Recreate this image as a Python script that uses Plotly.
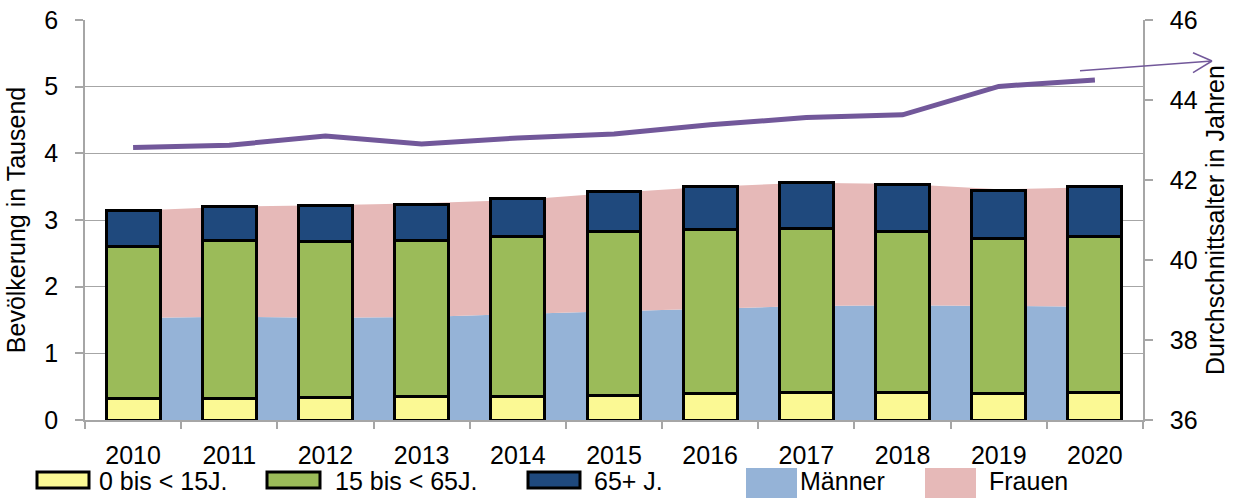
import plotly.graph_objects as go

# ---------------- data ----------------
years = ["2010", "2011", "2012", "2013", "2014", "2015", "2016", "2017", "2018", "2019", "2020"]

age_0_15 = [0.32, 0.33, 0.34, 0.35, 0.355, 0.365, 0.40, 0.415, 0.415, 0.405, 0.415]
age_15_65 = [2.29, 2.36, 2.34, 2.34, 2.395, 2.465, 2.46, 2.465, 2.415, 2.325, 2.335]
age_65p = [0.53, 0.52, 0.54, 0.54, 0.57, 0.60, 0.65, 0.68, 0.70, 0.72, 0.75]

maenner = [1.53, 1.55, 1.535, 1.545, 1.59, 1.63, 1.67, 1.71, 1.72, 1.71, 1.70]
frauen = [1.61, 1.65, 1.685, 1.705, 1.71, 1.78, 1.83, 1.85, 1.82, 1.75, 1.79]

durchschnittsalter = [42.81, 42.87, 43.10, 42.90, 43.05, 43.15, 43.38, 43.56, 43.63, 44.34, 44.50]

bar_names = ["0 bis < 15J.", "15 bis < 65J.", "65+ J."]
area_names = ["Männer", "Frauen"]
left_title = "Bevölkerung in Tausend"
right_title = "Durchschnittsalter in Jahren"
chart_title = "Bevölkerung nach Altersgruppen, Geschlecht und Durchschnittsalter der Einwohner (2020)"

# ---------------- styles ----------------
FONT = "Liberation Sans, Arial, sans-serif"
bar_colors = ["#FBF994", "#9BBB59", "#1F497D"]
area_colors = ["#95B3D7", "#E6B9B8"]
line_color = "#72589A"
grid_color = "#A6A6A6"
FS = 25

W, H = 1239, 498
ML, MR, MT, MB = 85, 96, 20, 78
PW = W - ML - MR
PH = H - MT - MB


def px_x(px):
    return (px - ML) / PW


def px_y(py):
    return 1 - (py - MT) / PH


fig = go.Figure()

# background areas (main subplot, drawn first)
for name, vals, col in zip(area_names, [maenner, frauen], area_colors):
    fig.add_trace(go.Scatter(
        x=years, y=vals, name=name, stackgroup="g", mode="none",
        fillcolor=col, line=dict(width=0), xaxis="x", yaxis="y",
        showlegend=False,
    ))

# stacked bars (overlay subplot, drawn above areas)
for name, vals, col in zip(bar_names, [age_0_15, age_15_65, age_65p], bar_colors):
    fig.add_trace(go.Bar(
        x=years, y=vals, name=name, marker=dict(color=col, line=dict(color="black", width=3)),
        width=0.56, xaxis="x", yaxis="y2", showlegend=False,
    ))

# average age line (right axis)
fig.add_trace(go.Scatter(
    x=years, y=durchschnittsalter, name=right_title, mode="lines",
    line=dict(color=line_color, width=5), xaxis="x", yaxis="y3", showlegend=False,
))

fig.update_layout(
    width=W, height=H,
    margin=dict(l=ML, r=MR, t=MT, b=MB, autoexpand=False),
    paper_bgcolor="white", plot_bgcolor="white",
    barmode="stack", bargap=0.44,
    font=dict(family=FONT, size=FS, color="black"),
    xaxis=dict(
        type="category", range=[-0.5, 10.5], showgrid=False, zeroline=False, automargin=False,
        showline=True, linecolor=grid_color, linewidth=1.5,
        ticks="outside", tickson="boundaries", ticklen=7, tickcolor=grid_color, tickwidth=1.5,
        tickfont=dict(size=FS), ticklabelstandoff=12,
    ),
    yaxis=dict(
        range=[0, 6], dtick=1, showgrid=True, gridcolor=grid_color, gridwidth=1.3,
        zeroline=False, showline=True, linecolor=grid_color, linewidth=1.5, automargin=False,
        ticks="outside", ticklen=8, tickcolor=grid_color, tickwidth=1.5,
        tickfont=dict(size=FS), ticklabelstandoff=12,
        title=dict(text=left_title, font=dict(size=FS), standoff=12),
    ),
    yaxis2=dict(overlaying="y", matches="y", visible=False, showgrid=False, automargin=False),
    yaxis3=dict(
        overlaying="y", side="right", range=[36, 46], dtick=2, showgrid=False, automargin=False,
        zeroline=False, showline=True, linecolor=grid_color, linewidth=1.5,
        ticks="outside", ticklen=8, tickcolor=grid_color, tickwidth=1.5,
        tickfont=dict(size=FS), ticklabelstandoff=12,
        title=dict(text=right_title, font=dict(size=FS), standoff=10),
    ),
)

shapes = []
annotations = []

# custom legend
legend_items = [
    (bar_names[0], bar_colors[0], True, 37, 89, 97),
    (bar_names[1], bar_colors[1], True, 267, 320, 333),
    (bar_names[2], bar_colors[2], True, 528, 580, 592),
    (area_names[0], area_colors[0], False, 746, 797, 798),
    (area_names[1], area_colors[1], False, 925, 976, 987),
]
for name, col, outlined, x0, x1, tx in legend_items:
    if outlined:
        y0, y1 = 488, 472
        line = dict(color="black", width=3)
    else:
        y0, y1 = 498, 468
        line = dict(width=0)
    shapes.append(dict(type="rect", xref="paper", yref="paper",
                       x0=px_x(x0), x1=px_x(x1), y0=px_y(y0), y1=px_y(y1),
                       fillcolor=col, line=line, layer="above"))
    annotations.append(dict(text=name, xref="paper", yref="paper", x=px_x(tx), y=px_y(481),
                            xanchor="left", yanchor="middle", showarrow=False,
                            font=dict(size=FS, color="black")))

# thin arrow pointing to the right axis
ax0, ay0 = 1080, 70.7
tx_, ty_ = 1212, 61
for (sx, sy, ex, ey) in [(ax0, ay0, tx_, ty_), (1193, 52.7, tx_, ty_), (1193, 72.7, tx_, ty_)]:
    shapes.append(dict(type="line", xref="paper", yref="paper",
                       x0=px_x(sx), y0=px_y(sy), x1=px_x(ex), y1=px_y(ey),
                       line=dict(color=line_color, width=1.5), layer="above"))

# title (mostly cut off at the top edge, as in the original)
annotations.append(dict(text="<b>" + chart_title + "</b>", xref="paper", yref="paper",
                        x=px_x(-1), y=px_y(3.5), xanchor="left", yanchor="bottom",
                        showarrow=False, font=dict(size=26.5, color="black")))

fig.update_layout(shapes=shapes, annotations=annotations)

fig.write_html("out.html", config={"displayModeBar": False},
               post_script="document.body.style.margin='0';")
